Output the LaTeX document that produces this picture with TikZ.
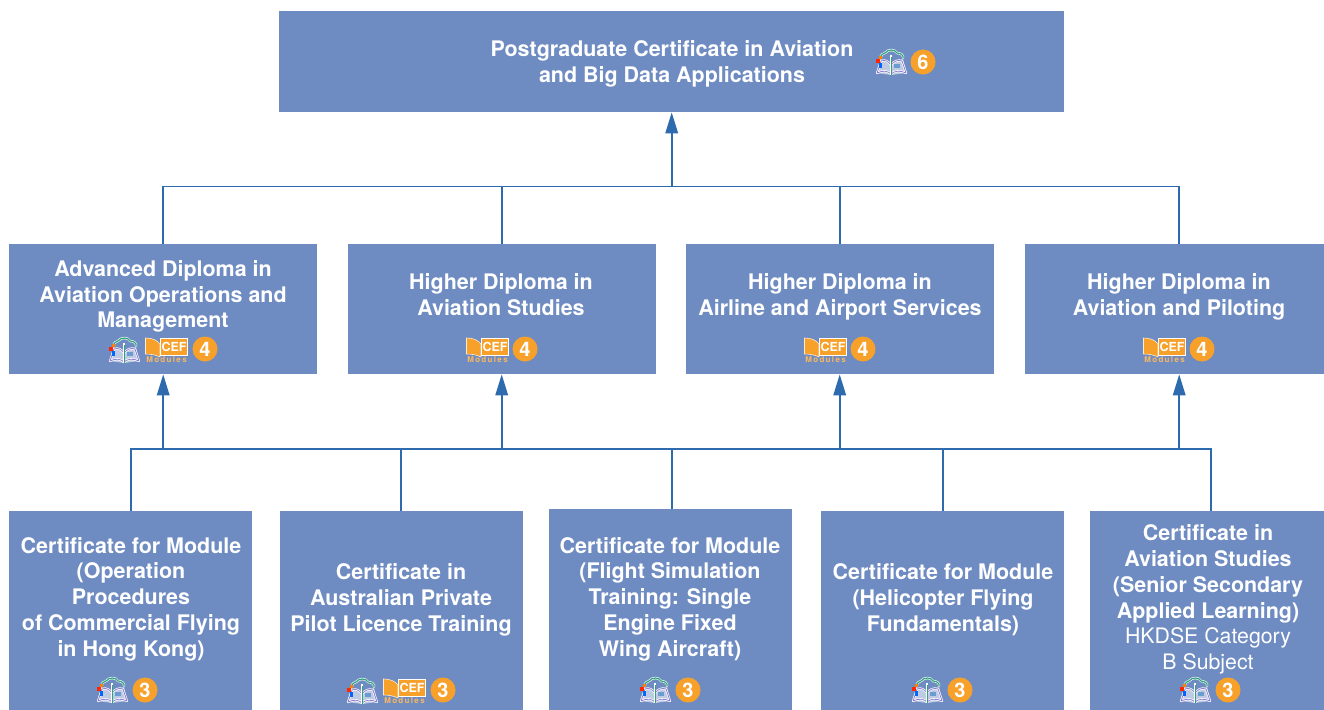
\documentclass[tikz,border=0pt]{standalone}
\usepackage{fontspec}
\setmainfont{TeX Gyre Heros}
\usetikzlibrary{arrows.meta,calc}
\definecolor{boxblue}{HTML}{6F8CC2}
\definecolor{linkblue}{HTML}{2E6AAE}
\definecolor{badgeor}{HTML}{F7A02A}
\definecolor{treegreen}{HTML}{2FA37C}
\definecolor{bookpurple}{HTML}{8F7FD0}
\tikzset{
  box/.style={fill=boxblue,draw=none,inner sep=0pt,anchor=north west},
  title/.style={align=center,text=white,font=\fontsize{21.45}{25.8}\selectfont\bfseries,inner sep=0pt},
  link/.style={draw=linkblue,line width=1.8pt},
  linkarrow/.style={link,-{Triangle[length=21pt,width=12.5pt]}},
  badge/.style={circle,fill=badgeor,text=white,minimum size=25pt,inner sep=0pt,font=\fontsize{20}{20}\selectfont\bfseries}
}
% book-and-tree icon centred on (#1,#2)
\newcommand{\treeicon}[2]{%
  \begin{scope}[shift={(#1,#2)}]
    \fill[white,opacity=.55] (-11,-3) -- (0,1) -- (12,-3) -- (15,11) -- (0,13) -- (-14,11) -- cycle;
    \draw[white,line width=2.2pt,line join=round] (-10,-1) .. controls (-6,-3) and (-2,0) .. (0,3) .. controls (2,0) and (7,-3) .. (11,-1) -- (15,11) .. controls (9,8) and (3,9) .. (0,12) .. controls (-3,9) and (-8,8) .. (-14,11) -- cycle;
    \draw[bookpurple,line width=.8pt,line join=round] (-10,-1) .. controls (-6,-3) and (-2,0) .. (0,3) .. controls (2,0) and (7,-3) .. (11,-1) -- (15,11) .. controls (9,8) and (3,9) .. (0,12) .. controls (-3,9) and (-8,8) .. (-14,11) -- cycle;
    \draw[white,line width=2.4pt,line cap=round] (-10,-4) .. controls (-11,-8) and (-7,-8) .. (-6,-9) .. controls (-3,-13) and (4,-13) .. (6,-9) .. controls (9,-9) and (13,-7) .. (12,-4);
    \draw[treegreen,line width=1.2pt,line cap=round] (-10,-4) .. controls (-11,-8) and (-7,-8) .. (-6,-9) .. controls (-3,-13) and (4,-13) .. (6,-9) .. controls (9,-9) and (13,-7) .. (12,-4);
    \draw[white,line width=2.4pt] (0,-7) -- (0,13);
    \draw[treegreen,line width=1pt] (0,-5) -- (0,13);
    \fill[red!70!orange] (-15,-3) rectangle (-11,1);
    \fill[orange] (-12,-6) rectangle (-9,-3);
    \fill[blue!60!cyan] (-12,1) rectangle (-9,6);
    \fill[cyan!50!blue,opacity=.5] (3,2) rectangle (9,6);
  \end{scope}}
% CEF Modules icon centred on (#1,#2); #3 names its texts
\newcommand{\cef}[3]{%
  \begin{scope}[shift={(#1,#2)}]
    \fill[badgeor,draw=white!80!badgeor,line width=.6pt] (-20.5,-11) .. controls (-14,-11) and (-9,-9) .. (-6,-5) -- (-6,8) .. controls (-10,6) and (-15,5) .. (-20.5,5) -- cycle;
    \fill[badgeor,draw=white,line width=.9pt] (-6,-11) rectangle (21,6);
    \node[text=white,inner sep=0pt,font=\fontsize{12.5}{12.5}\selectfont\bfseries] (#3c) at (8,-2.5) {CEF};
    \node[text=badgeor!75!white,inner sep=0pt,font=\fontsize{8}{8}\selectfont\bfseries] (#3m) at (0.5,11) {M\,o\,d\,u\,l\,e\,s};
  \end{scope}}
\begin{document}
\begin{tikzpicture}[x=1pt,y=-1pt]
\useasboundingbox (0,0) rectangle (1324,709);
\fill[white] (0,0) rectangle (1324,709);
% boxes
\node[box,minimum width=785pt,minimum height=101pt] (top) at (279,11) {};
\foreach \n/\x in {m1/9,m2/347.5,m3/685.5,m4/1025}
  \node[box,minimum width=308pt,minimum height=130pt] (\n) at (\x,244) {};
\foreach \n/\x in {b1/9,b2/279.5,b4/821,b5/1089.5}
  \node[box,minimum width=243pt,minimum height=200pt] (\n) at (\x,511) {};
\node[box,minimum width=243pt,minimum height=202pt] (b3) at (549,509) {};
% texts
\node[title] (ttop) at (672,63.5) {Postgraduate Certificate in Aviation\\and Big Data Applications};
\node[title] (t1) at (163,296.5) {Advanced Diploma in\\Aviation Operations and\\Management};
\node[title] (t2) at (501,295) {Higher Diploma in\\Aviation Studies};
\node[title] (t3) at (840,296.5) {Higher Diploma in\\Airline and Airport Services};
\node[title] (t4) at (1179,296.5) {Higher Diploma in\\Aviation and Piloting};
\node[title] (s1) at (131,599) {Certificate for Module\\(Operation\\Procedures\\of Commercial Flying\\in Hong Kong)};
\node[title] (s2) at (401,600) {Certificate in\\Australian Private\\Pilot Licence Training};
\node[title] (s3) at (670,599) {Certificate for Module\\(Flight Simulation\\Training: Single\\Engine Fixed\\Wing Aircraft)};
\node[title] (s4) at (943,599.5) {Certificate for Module\\(Helicopter Flying\\Fundamentals)};
\node[title] (s5) at (1208,599.5) {Certificate in\\Aviation Studies\\(Senior Secondary\\Applied Learning)\\{\normalfont\fontsize{21.3}{25.8}\selectfont HKDSE Category}\\{\normalfont\fontsize{21.3}{25.8}\selectfont B Subject}};
% icons
\treeicon{891}{62}
\node[badge] (n0) at (923,62) {6};
\treeicon{124}{350}
\cef{166}{349}{ca}
\node[badge] (n1) at (205,349) {4};
\cef{487}{349}{cb}
\node[badge] (n2) at (525,349) {4};
\cef{825}{349}{cc}
\node[badge] (n3) at (863,349) {4};
\cef{1164}{349}{cd}
\node[badge] (n4) at (1202,349) {4};
\treeicon{112}{690}
\node[badge] (p1) at (145,690) {3};
\treeicon{362}{691}
\cef{404}{690}{ce}
\node[badge] (p2) at (443,690) {3};
\treeicon{655}{690}
\node[badge] (p3) at (688,690) {3};
\treeicon{927}{690}
\node[badge] (p4) at (960,690) {3};
\treeicon{1195}{690}
\node[badge] (p5) at (1228,690) {3};
% connectors
\coordinate (up) at ($(top.south)+(0,74)$);
\coordinate (low) at ($(b3.north)+(1.5,-60)$);
\draw[linkarrow] (up) -- (top.south);
\draw[link] (m1.north) |- (m4.north |- up) -- (m4.north);
\draw[link] (m2.north) -- (m2.north |- up);
\draw[link] (m3.north) -- (m3.north |- up);
\draw[link] (b1.north) |- (b5.north |- low) -- (b5.north);
\draw[link] (b2.north) -- (b2.north |- low);
\draw[link] (b3.north -| low) -- (low);
\draw[link] (b4.north) -- (b4.north |- low);
\foreach \n in {m1,m2,m3,m4}
  \draw[linkarrow] (\n.south |- low) -- (\n.south);
\end{tikzpicture}
\end{document}
